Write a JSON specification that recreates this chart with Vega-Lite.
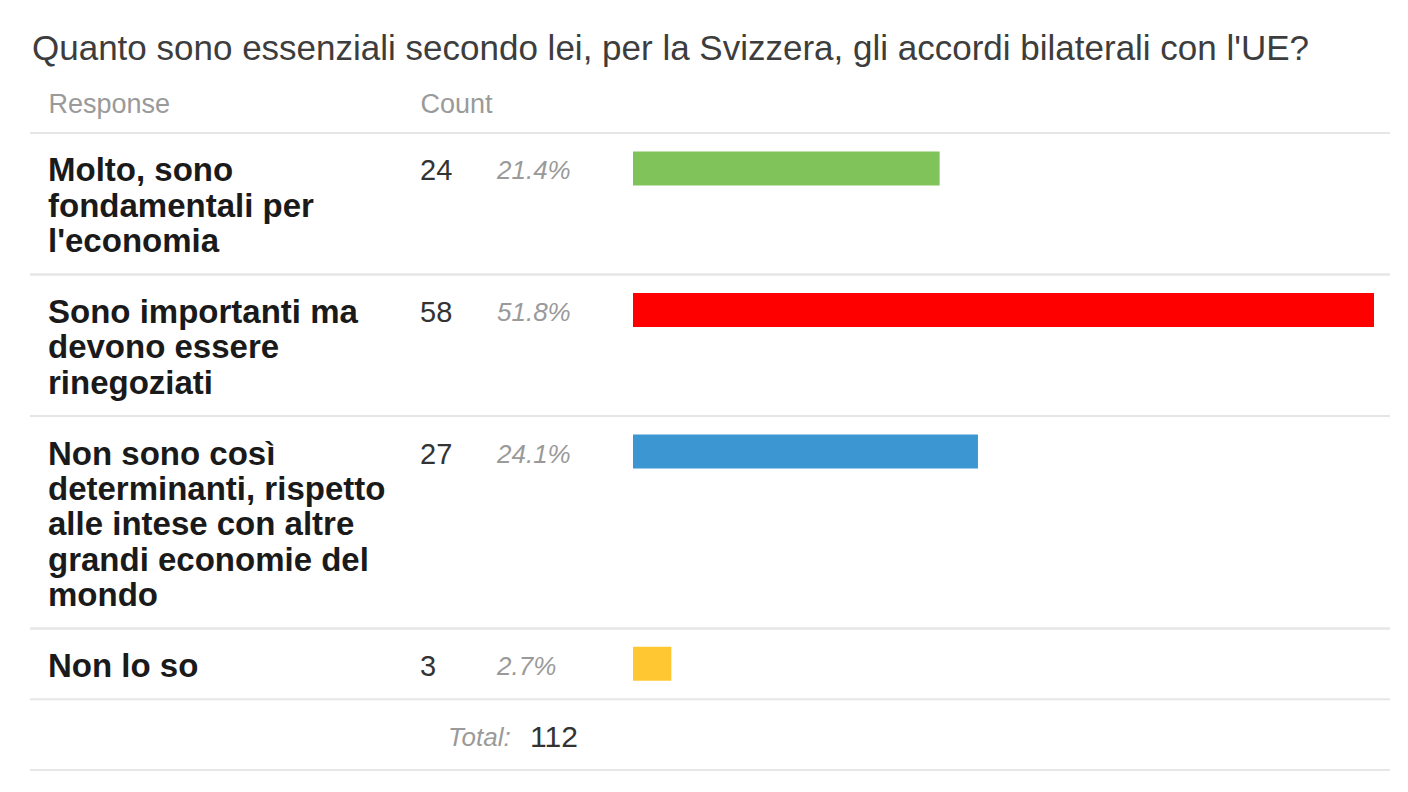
{
  "$schema": "https://vega.github.io/schema/vega-lite/v6.json",
  "autosize": "none",
  "width": 1360,
  "height": 637,
  "padding": {"left": 30, "top": 133, "right": 18, "bottom": 22},
  "background": "white",
  "title": {
    "text": "Quanto sono essenziali secondo lei, per la Svizzera, gli accordi bilaterali con l'UE?",
    "anchor": "start",
    "frame": "group",
    "dx": 2,
    "offset": -5,
    "baseline": "alphabetic",
    "fontSize": 35,
    "fontWeight": "normal",
    "font": "Liberation Sans",
    "color": "#3d3d3d"
  },
  "data": {
    "values": [
      {"response": ["Molto, sono", "fondamentali per", "l'economia"], "count": 24, "pct": "21.4%"},
      {"response": ["Sono importanti ma", "devono essere", "rinegoziati"], "count": 58, "pct": "51.8%"},
      {"response": ["Non sono così", "determinanti, rispetto", "alle intese con altre", "grandi economie del", "mondo"], "count": 27, "pct": "24.1%"},
      {"response": ["Non lo so"], "count": 3, "pct": "2.7%"}
    ]
  },
  "transform": [
    {"calculate": "join(datum.response, ' ')", "as": "label"},
    {"calculate": "length(datum.response) + 1", "as": "span"},
    {"window": [{"op": "sum", "field": "span", "as": "rowEnd"}]},
    {"calculate": "datum.rowEnd - datum.span", "as": "rowStart"},
    {"calculate": "datum.rowStart + 1", "as": "firstLine"},
    {"calculate": "datum.firstLine - 0.48", "as": "barTop"},
    {"calculate": "datum.firstLine + 0.48", "as": "barBottom"}
  ],
  "layer": [
    {
      "layer": [
        {
          "mark": {"type": "rule", "color": "#e6e6e6", "strokeWidth": 2},
          "encoding": {
            "y": {"field": "rowStart", "type": "quantitative", "axis": null,
                  "scale": {"domain": [0, 18], "reverse": true, "nice": false, "zero": false}}
          }
        },
        {
          "mark": {"type": "rule", "color": "#e6e6e6", "strokeWidth": 2},
          "encoding": {
            "y": {"field": "rowEnd", "type": "quantitative", "axis": null,
                  "scale": {"domain": [0, 18], "reverse": true, "nice": false, "zero": false}}
          }
        },
        {
          "mark": {"type": "text", "align": "left", "baseline": "middle", "dy": 3, "font": "Liberation Sans",
                   "fontSize": 33, "fontWeight": "bold", "lineHeight": 35.4, "color": "#1a1a1a"},
          "encoding": {
            "x": {"datum": "Response", "type": "nominal", "title": null,
                  "scale": {"type": "point", "domain": ["Response", "Count"], "range": [18, 390], "padding": 0},
                  "axis": {"orient": "top", "domain": false, "ticks": false, "labelAlign": "left",
                           "labelBaseline": "alphabetic", "labelPadding": 21, "labelFontSize": 27,
                           "labelFont": "Liberation Sans", "labelColor": "#9a9a9a", "labelAngle": 0}},
            "y": {"field": "firstLine", "type": "quantitative", "axis": null,
                  "scale": {"domain": [0, 18], "reverse": true, "nice": false, "zero": false}},
            "text": {"field": "response"}
          }
        },
        {
          "mark": {"type": "text", "align": "left", "baseline": "middle", "dy": 3, "font": "Liberation Sans",
                   "fontSize": 29, "color": "#333333"},
          "encoding": {
            "x": {"datum": "Count", "type": "nominal", "title": null},
            "y": {"field": "firstLine", "type": "quantitative", "axis": null,
                  "scale": {"domain": [0, 18], "reverse": true, "nice": false, "zero": false}},
            "text": {"field": "count", "type": "quantitative"}
          }
        },
        {
          "mark": {"type": "text", "align": "left", "baseline": "middle", "dy": 3, "font": "Liberation Sans",
                   "fontSize": 26, "fontStyle": "italic", "color": "#9a9a9a", "dx": 77},
          "encoding": {
            "x": {"datum": "Count", "type": "nominal", "title": null},
            "y": {"field": "firstLine", "type": "quantitative", "axis": null,
                  "scale": {"domain": [0, 18], "reverse": true, "nice": false, "zero": false}},
            "text": {"field": "pct", "type": "nominal"}
          }
        },
        {
          "transform": [
            {"aggregate": [{"op": "sum", "field": "count", "as": "total"}, {"op": "max", "field": "rowEnd", "as": "lastEnd"}]},
            {"calculate": "datum.lastEnd + 1", "as": "slot"},
            {"calculate": "datum.lastEnd + 2", "as": "bottom"}
          ],
          "layer": [
            {
              "mark": {"type": "text", "align": "left", "baseline": "middle", "dy": 3, "font": "Liberation Sans",
                       "fontSize": 26, "fontStyle": "italic", "color": "#9a9a9a", "dx": 28, "text": "Total:"},
              "encoding": {
                "x": {"datum": "Count", "type": "nominal", "title": null},
                "y": {"field": "slot", "type": "quantitative", "axis": null,
                      "scale": {"domain": [0, 18], "reverse": true, "nice": false, "zero": false}}
              }
            },
            {
              "mark": {"type": "text", "align": "left", "baseline": "middle", "dy": 3, "font": "Liberation Sans",
                       "fontSize": 30, "color": "#333333", "dx": 110},
              "encoding": {
                "x": {"datum": "Count", "type": "nominal", "title": null},
                "y": {"field": "slot", "type": "quantitative", "axis": null,
                      "scale": {"domain": [0, 18], "reverse": true, "nice": false, "zero": false}},
                "text": {"field": "total", "type": "quantitative"}
              }
            },
            {
              "mark": {"type": "rule", "color": "#e6e6e6", "strokeWidth": 2},
              "encoding": {
                "y": {"field": "bottom", "type": "quantitative", "axis": null,
                      "scale": {"domain": [0, 18], "reverse": true, "nice": false, "zero": false}}
              }
            }
          ]
        }
      ]
    },
    {
      "mark": {"type": "rect"},
      "encoding": {
        "x": {"field": "count", "type": "quantitative", "axis": null,
              "scale": {"domain": [0, 58], "range": [603, 1344], "nice": false, "zero": true}},
        "x2": {"datum": 0},
        "y": {"field": "barTop", "type": "quantitative", "axis": null,
              "scale": {"domain": [0, 18], "reverse": true, "nice": false, "zero": false}},
        "y2": {"field": "barBottom"},
        "color": {
          "field": "label",
          "type": "nominal",
          "legend": null,
          "scale": {
            "domain": [
              "Molto, sono fondamentali per l'economia",
              "Sono importanti ma devono essere rinegoziati",
              "Non sono così determinanti, rispetto alle intese con altre grandi economie del mondo",
              "Non lo so"
            ],
            "range": ["#80c35a", "#ff0000", "#3b96d2", "#ffc832"]
          }
        }
      }
    }
  ],
  "resolve": {"scale": {"x": "independent"}, "axis": {"x": "independent"}},
  "config": {"view": {"stroke": null}}
}
